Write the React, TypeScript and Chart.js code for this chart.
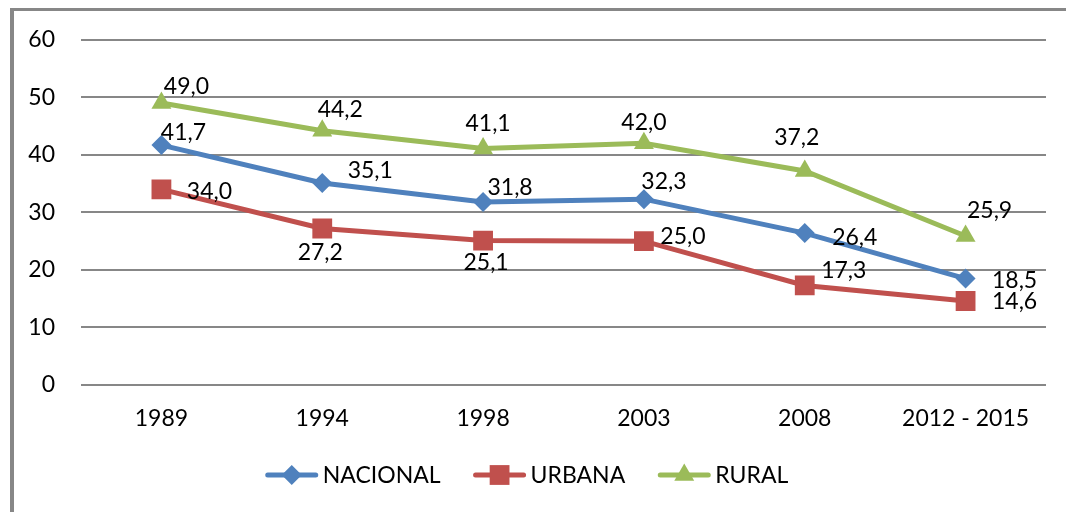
import React, { useEffect, useRef } from "react";
import { Chart, registerables } from "chart.js";

Chart.register(...registerables);

const categories = ["1989", "1994", "1998", "2003", "2008", "2012 - 2015"];
const nacional = [41.7, 35.1, 31.8, 32.3, 26.4, 18.5];
const urbana = [34.0, 27.2, 25.1, 25.0, 17.3, 14.6];
const rural = [49.0, 44.2, 41.1, 42.0, 37.2, 25.9];
const seriesNames = ["NACIONAL", "URBANA", "RURAL"];
const yTicks = [0, 10, 20, 30, 40, 50, 60];

// label offsets (px) relative to each point, per series
const labelOffsets = [
  [[22, -13], [48, -12], [27, -14], [20, -18], [50, 4], [49, 2]],
  [[48, 2], [-2, 24], [3, 22], [39, -5], [39, -15], [49, 1]],
  [[25, -17], [18, -21], [5, -25], [0, -21], [-8, -33], [24, -25]],
];

const FONT = "Lato, 'Noto Sans', sans-serif";
const FS = 23;
const colors = ["#4F81BD", "#C0504D", "#9BBB59"];
const styles = ["rectRot", "rect", "triangle"];
const radii = [10, 14, 11.5];

const dataLabelsPlugin = {
  id: "dataLabels",
  afterDatasetsDraw(chart: any) {
    const ctx = chart.ctx;
    ctx.save();
    ctx.font = `${FS}px ${FONT}`;
    ctx.fillStyle = "#000";
    ctx.textAlign = "center";
    ctx.textBaseline = "middle";
    chart.data.datasets.forEach((ds: any, di: number) => {
      const meta = chart.getDatasetMeta(di);
      meta.data.forEach((pt: any, i: number) => {
        const off = labelOffsets[di][i];
        const txt = Number(ds.data[i]).toFixed(1).replace(".", ",");
        ctx.fillText(txt, pt.x + off[0], pt.y + off[1]);
      });
    });
    ctx.restore();
  },
};

const legendPlugin = {
  id: "customLegend",
  afterDraw(chart: any) {
    const ctx = chart.ctx;
    ctx.save();
    ctx.font = `${FS}px ${FONT}`;
    const lineLen = 52;
    const gapText = 5;
    const gapItem = 33;
    const ds = chart.data.datasets;
    const widths = ds.map((d: any) => lineLen + gapText + ctx.measureText(d.label).width);
    const total = widths.reduce((a: number, b: number) => a + b, 0) + gapItem * (ds.length - 1);
    let x = 527 - total / 2;
    const y = 475;
    ds.forEach((d: any, i: number) => {
      ctx.strokeStyle = d.borderColor;
      ctx.lineWidth = 5;
      ctx.lineCap = "round";
      ctx.beginPath();
      ctx.moveTo(x + 2, y);
      ctx.lineTo(x + lineLen - 2, y);
      ctx.stroke();
      ctx.fillStyle = d.pointBackgroundColor;
      (Chart as any).helpers?.drawPoint
        ? null
        : null;
      drawMarker(ctx, d.pointStyle, d.pointRadius, x + lineLen / 2, y);
      ctx.fillStyle = "#000";
      ctx.textAlign = "left";
      ctx.textBaseline = "middle";
      ctx.fillText(d.label, x + lineLen + gapText, y + 1);
      x += widths[i] + gapItem;
    });
    ctx.restore();
  },
};

function drawMarker(ctx: CanvasRenderingContext2D, style: string, r: number, x: number, y: number) {
  ctx.beginPath();
  if (style === "rectRot") {
    ctx.moveTo(x - r, y);
    ctx.lineTo(x, y - r);
    ctx.lineTo(x + r, y);
    ctx.lineTo(x, y + r);
  } else if (style === "rect") {
    const s = r * Math.SQRT1_2;
    ctx.rect(x - s, y - s, 2 * s, 2 * s);
  } else {
    const a = (2 * Math.PI) / 3;
    ctx.moveTo(x, y - r);
    ctx.lineTo(x + Math.sin(a) * r, y - Math.cos(a) * r);
    ctx.lineTo(x + Math.sin(2 * a) * r, y - Math.cos(2 * a) * r);
  }
  ctx.closePath();
  ctx.fill();
}

export default function App() {
  const ref = useRef<HTMLCanvasElement>(null);
  useEffect(() => {
    if (!ref.current) return;
    const seriesData = [nacional, urbana, rural];
    const chart = new Chart(ref.current, {
      type: "line",
      data: {
        labels: categories,
        datasets: seriesData.map((d, i) => ({
          label: seriesNames[i],
          data: d,
          borderColor: colors[i],
          backgroundColor: colors[i],
          pointBackgroundColor: colors[i],
          pointBorderColor: colors[i],
          pointBorderWidth: 0,
          borderWidth: 5,
          pointStyle: styles[i] as any,
          pointRadius: radii[i],
          pointHoverRadius: radii[i],
          tension: 0,
        })),
      },
      options: {
        responsive: false,
        animation: false,
        layout: { padding: { top: 38, right: 20, bottom: 67, left: 0 } },
        plugins: {
          legend: { display: false },
          tooltip: { enabled: false },
        },
        scales: {
          x: {
            type: "category",
            offset: true,
            grid: { display: false, drawTicks: false },
            border: { display: false },
            ticks: {
              color: "#000",
              font: { family: FONT, size: FS },
              padding: 20,
              maxRotation: 0,
              autoSkip: false,
            },
            afterFit: (s: any) => {
              s.height = 60;
            },
          },
          y: {
            min: 0,
            max: 60,
            afterBuildTicks: (s: any) => {
              s.ticks = yTicks.map((v) => ({ value: v }));
            },
            grid: { color: "#878787", lineWidth: 2, drawTicks: false },
            border: { display: false },
            ticks: {
              color: "#000",
              font: { family: FONT, size: FS },
              padding: 26,
            },
            afterFit: (s: any) => {
              s.width = 81;
            },
          },
        },
      },
      plugins: [dataLabelsPlugin, legendPlugin],
    });
    return () => chart.destroy();
  }, []);

  return (
    <div
      style={{
        position: "absolute",
        left: 0,
        top: 0,
        width: 1066,
        height: 512,
        overflow: "hidden",
        background: "#fff",
      }}
    >
      <div
        style={{
          position: "absolute",
          left: 10,
          top: 8,
          width: 1200,
          height: 700,
          borderLeft: "4px solid #878787",
          borderTop: "3px solid #878787",
        }}
      />
      <canvas
        ref={ref}
        width={1066}
        height={512}
        style={{ position: "absolute", left: 0, top: 0, width: 1066, height: 512 }}
      />
    </div>
  );
}
